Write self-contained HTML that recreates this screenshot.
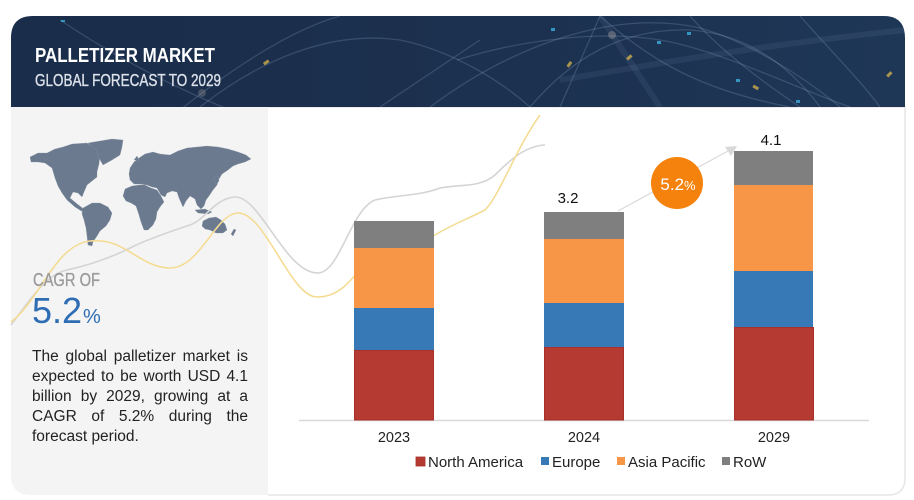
<!DOCTYPE html>
<html><head><meta charset="utf-8">
<style>
html,body{margin:0;padding:0;background:#fff;}
body{width:914px;height:500px;position:relative;overflow:hidden;font-family:"Liberation Sans",sans-serif;}
svg{position:absolute;left:0;top:0;}
.para{position:absolute;left:32px;top:347px;width:216px;font-size:15.5px;line-height:20px;color:#222;}
.para div{text-align:justify;text-align-last:justify;white-space:nowrap;}
.para div.last{text-align:left;text-align-last:left;}
</style></head>
<body>
<svg width="914" height="500" viewBox="0 0 914 500" xmlns="http://www.w3.org/2000/svg">
<defs>
<linearGradient id="hg" x1="0" y1="0" x2="1" y2="0">
<stop offset="0" stop-color="#1a2d4a"/><stop offset="0.6" stop-color="#1c3150"/><stop offset="1" stop-color="#1f3757"/>
</linearGradient>
<clipPath id="hc"><path d="M11,107 L11,38 Q11,16 33,16 L884,16 Q905,16 905,38 L905,107 Z"/></clipPath>
</defs>
<!-- card outline -->
<path d="M268,107 L905,107 L905,478 Q905,495 888,495 L268,495" fill="#fff" stroke="#e6e6e6" stroke-width="1.5"/>
<!-- left panel -->
<path d="M11,107 L268,107 L268,495 L31,495 Q11,495 11,475 Z" fill="#f4f4f4"/>
<!-- header -->
<g clip-path="url(#hc)">
<rect x="11" y="16" width="894" height="91" fill="url(#hg)"/>
<g fill="none" stroke="rgba(170,195,230,0.2)" stroke-width="1.3">
<path d="M60,20 C120,60 180,90 230,110"/>
<path d="M180,110 C230,70 290,30 340,16"/>
<path d="M200,107 C260,60 330,30 400,40 C450,50 500,80 530,107"/>
<path d="M430,107 C520,40 620,10 700,28 C760,45 820,90 840,107"/>
<path d="M530,107 C570,60 620,28 690,30 C760,35 800,80 820,107"/>
<path d="M600,16 C650,60 700,90 790,107"/>
<path d="M690,16 C720,50 760,80 800,107"/>
<path d="M457,60 C520,40 600,30 660,40 C720,50 800,90 850,107"/>
<path d="M800,16 C830,50 860,80 880,107"/>
<path d="M560,107 L600,16"/>
<path d="M380,107 C420,80 450,60 480,40"/>
</g>
<g fill="none" stroke="rgba(120,150,190,0.12)" stroke-width="6">
<path d="M560,80 C650,65 760,45 905,30"/>
<path d="M600,16 L660,107"/>
</g>
<g opacity="0.75">
<rect x="263" y="61" width="6" height="3" fill="#d9b64a" transform="rotate(-35 266 62)"/>
<rect x="566" y="63" width="6" height="3" fill="#d9b64a" transform="rotate(-55 569 64)"/>
<rect x="626" y="56" width="6" height="3" fill="#d9b64a" transform="rotate(-40 629 57)"/>
<rect x="753" y="86" width="6" height="3" fill="#d9b64a" transform="rotate(30 756 87)"/>
<rect x="886" y="73" width="6" height="3" fill="#d9b64a" transform="rotate(-45 889 74)"/>
<rect x="551" y="28" width="4" height="3" fill="#3cb6e6"/>
<rect x="657" y="41" width="4" height="3" fill="#3cb6e6"/>
<rect x="687" y="32" width="4" height="3" fill="#3cb6e6"/>
<rect x="736" y="79" width="4" height="3" fill="#3cb6e6"/>
<rect x="796" y="100" width="4" height="3" fill="#3cb6e6"/>
<rect x="61" y="20" width="4" height="2" fill="#3cb6e6"/>
<circle cx="612" cy="35" r="4" fill="rgba(255,230,200,0.3)"/>
<circle cx="202" cy="93" r="4" fill="rgba(255,230,200,0.25)"/>
</g>
</g>
<text x="35" y="62" font-family="Liberation Sans" font-weight="bold" font-size="20.5" fill="#ffffff" textLength="180" lengthAdjust="spacingAndGlyphs">PALLETIZER MARKET</text>
<text x="35" y="86" font-family="Liberation Sans" font-size="17.5" fill="#dde2ea" stroke="#dde2ea" stroke-width="0.35" textLength="186" lengthAdjust="spacingAndGlyphs">GLOBAL FORECAST TO 2029</text>

<!-- world map -->
<g fill="#6b7a8f" stroke="#8a97a8" stroke-width="0.3">
<path d="M30,157 L38,153 L47,153 L55,149 L63,147 L72,144 L87,143 L95,148 L100,155 L99,164 L97,172 L97,177 L92,181 L87,185 L84,192 L82,197 L78,193 L73,192 L70,198 L76,203 L85,210 L83,212 L75,207 L67,200 L62,193 L58,186 L55,178 L52,168 L45,163 L38,162 L31,162 Z"/>
<path d="M88,143 L100,141 L112,139 L123,140 L122,147 L120,155 L112,160 L103,165 L99,158 L96,150 Z"/>
<path d="M83,208 L92,203 L100,203 L108,207 L112,213 L110,220 L106,226 L100,231 L97,236 L93,242 L92,246 L88,245 L87,236 L86,228 L84,220 L82,214 Z"/>
<path d="M130,168 L134,162 L139,158 L145,154 L153,152 L160,154 L170,155 L178,151 L187,148 L197,147 L207,146 L218,147 L228,149 L238,152 L246,155 L251,159 L245,162 L238,164 L233,166 L228,170 L222,174 L219,179 L217,185 L213,190 L209,196 L206,200 L204,206 L201,209 L197,205 L195,199 L190,196 L186,201 L183,207 L179,198 L177,192 L172,191 L167,193 L165,197 L161,195 L157,188 L152,187 L147,185 L140,184 L134,184 L130,180 L129,174 Z"/>
<path d="M125,189 L132,186 L139,185 L145,185 L151,188 L157,190 L161,196 L164,202 L160,207 L157,212 L156,219 L153,225 L148,230 L144,230 L141,222 L139,215 L136,206 L131,203 L126,201 L123,196 Z"/>
<path d="M203,221 L209,218 L216,217 L221,220 L225,224 L227,230 L223,233 L216,233 L210,230 L205,229 L202,226 Z"/>
<path d="M231,234 L234,229 L236,230 L233,236 Z"/>
<path d="M195,210 L205,209 L212,212 L208,214 L198,213 Z"/>
<path d="M213,178 L218,176 L219,181 L216,184 Z"/>
<path d="M134,160 L137,156 L139,160 Z"/>
</g>

<!-- decorative curves -->
<path d="M11,325 C30,300 45,275 67,270 C90,265 110,258 130,248 C150,238 175,230 190,225 C205,220 215,198 235,197 C260,196 285,272 317,273 C340,274 350,210 375,200 C395,195 420,196 440,188 C460,184 480,188 495,175 C510,160 525,146 545,145" fill="none" stroke="#d4d4d4" stroke-width="1.6"/>
<path d="M11,322 C40,300 55,245 90,241 C125,237 140,268 170,268 C200,268 215,215 237,213 C265,211 290,297 317,297 C340,297 350,280 360,270 L430,238 C450,225 470,218 485,210 C500,195 515,150 540,115" fill="none" stroke="#f5dc94" stroke-width="1.6"/>

<!-- CAGR -->
<text x="33" y="286" font-family="Liberation Sans" font-size="18" fill="#9a9a9a" stroke="#9a9a9a" stroke-width="0.3" textLength="67" lengthAdjust="spacingAndGlyphs">CAGR OF</text>
<text x="32" y="323" font-family="Liberation Sans" font-size="36" fill="#2e6db4">5.2<tspan font-size="20" dx="1">%</tspan></text>

<!-- axis -->
<line x1="299" y1="420.5" x2="869" y2="420.5" stroke="#d9d9d9" stroke-width="1.5"/>

<!-- bars -->
<g>
<rect x="354" y="221" width="80" height="27" fill="#7f7f7f"/>
<rect x="354" y="248" width="80" height="60" fill="#f79646"/>
<rect x="354" y="308" width="80" height="42" fill="#3778b6"/>
<rect x="354.5" y="350.5" width="79" height="69.5" fill="#b43a32" stroke="#a8302a" stroke-width="1"/>

<rect x="544" y="212" width="80" height="27" fill="#7f7f7f"/>
<rect x="544" y="239" width="80" height="64" fill="#f79646"/>
<rect x="544" y="303" width="80" height="44" fill="#3778b6"/>
<rect x="544.5" y="347.5" width="79" height="72.5" fill="#b43a32" stroke="#a8302a" stroke-width="1"/>

<rect x="734" y="151" width="79" height="34" fill="#7f7f7f"/>
<rect x="734" y="185" width="79" height="86" fill="#f79646"/>
<rect x="734" y="271" width="79" height="56" fill="#3778b6"/>
<rect x="734.5" y="327.5" width="79" height="92.5" fill="#b43a32" stroke="#a8302a" stroke-width="1"/>
</g>

<!-- value labels -->
<text x="568" y="203" text-anchor="middle" font-family="Liberation Sans" font-size="15" fill="#111">3.2</text>
<text x="771" y="145" text-anchor="middle" font-family="Liberation Sans" font-size="15" fill="#111">4.1</text>

<!-- arrow + cagr bubble -->
<line x1="618" y1="211" x2="728" y2="151" stroke="#d9d9d9" stroke-width="1.2"/>
<polygon points="737,146 725,147 731,156" fill="#d9d9d9"/>
<circle cx="677" cy="183" r="26" fill="#f5820d"/>
<text x="678" y="190" text-anchor="middle" font-family="Liberation Sans" font-size="17" fill="#ffffff">5.2<tspan font-size="13">%</tspan></text>

<!-- x labels -->
<g font-family="Liberation Sans" font-size="14.5" fill="#222" text-anchor="middle">
<text x="394" y="442">2023</text>
<text x="584" y="442">2024</text>
<text x="774" y="442">2029</text>
</g>

<!-- legend -->
<g font-family="Liberation Sans" font-size="15" fill="#222">
<rect x="416" y="457" width="9" height="9" fill="#b43a32" stroke="#a8302a" stroke-width="0.8"/>
<text x="428" y="467">North America</text>
<rect x="541" y="457" width="8" height="8" fill="#3778b6"/>
<text x="552" y="467">Europe</text>
<rect x="617" y="457" width="8" height="8" fill="#f79646"/>
<text x="628" y="467">Asia Pacific</text>
<rect x="722" y="457" width="8" height="8" fill="#7f7f7f"/>
<text x="733" y="467">RoW</text>
</g>
</svg>

<div class="para">
<div>The global palletizer market is</div>
<div>expected to be worth USD 4.1</div>
<div>billion by 2029, growing at a</div>
<div>CAGR of 5.2% during the</div>
<div class="last">forecast period.</div>
</div>
</body></html>
